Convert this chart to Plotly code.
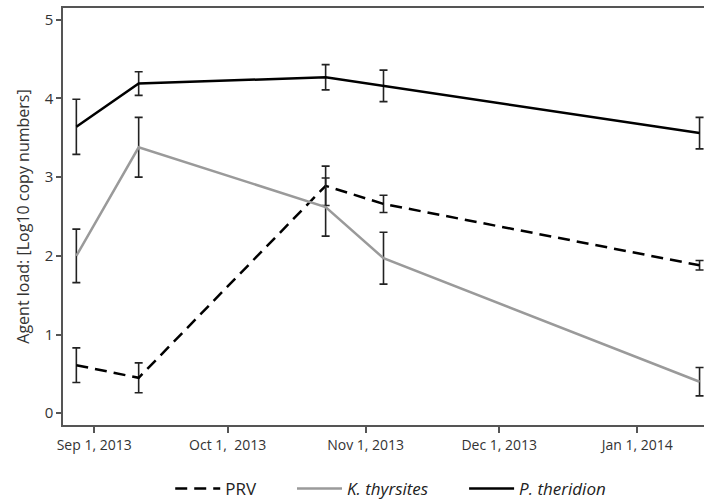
import plotly.graph_objects as go

dates = ["2013-08-28", "2013-09-11", "2013-10-23", "2013-11-05", "2014-01-15"]
prv = [0.61, 0.45, 2.89, 2.66, 1.88]
prv_err = [0.22, 0.19, 0.25, 0.11, 0.06]
kthy = [2.00, 3.38, 2.62, 1.97, 0.40]
kthy_err = [0.34, 0.38, 0.37, 0.33, 0.18]
pther = [3.64, 4.19, 4.27, 4.16, 3.56]
pther_err = [0.35, 0.15, 0.16, 0.20, 0.20]

tick_vals = ["2013-09-01", "2013-10-01", "2013-11-01", "2013-12-01", "2014-01-01"]
tick_text = ["Sep 1, 2013", "Oct 1,  2013", "Nov 1, 2013", "Dec 1, 2013", "Jan 1, 2014"]

font = "Open Sans, Segoe UI, DejaVu Sans, sans-serif"
pad = "\u00a0" * 7

def err(v):
    return dict(type="data", array=v, visible=True, color="#222222", thickness=1.6, width=4)

fig = go.Figure()
fig.add_trace(go.Scatter(x=dates, y=prv, mode="lines", name="PRV" + pad,
                         line=dict(color="black", width=2.5, dash="12px,7px"),
                         error_y=err(prv_err)))
fig.add_trace(go.Scatter(x=dates, y=kthy, mode="lines", name="<i>K. thyrsites</i>" + pad,
                         line=dict(color="#9a9a9a", width=2.5),
                         error_y=err(kthy_err)))
fig.add_trace(go.Scatter(x=dates, y=pther, mode="lines", name="<i>P. theridion</i>",
                         line=dict(color="black", width=2.5),
                         error_y=err(pther_err)))

fig.update_layout(
    width=704, height=504,
    margin=dict(l=63, r=0, t=8, b=79),
    paper_bgcolor="white", plot_bgcolor="white",
    font=dict(family=font, size=14, color="#333333"),
    showlegend=True,
    legend=dict(orientation="h", x=0.555, xref="container", xanchor="center",
                y=0.03, yref="container", yanchor="middle",
                font=dict(size=17, color="#222222"), traceorder="normal", itemwidth=45),
    xaxis=dict(type="date", range=["2013-08-25", "2014-01-16"],
               tickvals=tick_vals, ticktext=tick_text,
               showgrid=False, zeroline=False,
               showline=True, linecolor="#555555", linewidth=1.5, mirror=True,
               ticks="outside", ticklen=6, tickcolor="#555555", tickwidth=1.5,
               tickfont=dict(size=14, color="#333333")),
    yaxis=dict(range=[-0.15, 5.15], tickvals=[0, 1, 2, 3, 4, 5],
               showgrid=False, zeroline=False,
               showline=True, linecolor="#555555", linewidth=1.5,
               ticks="outside", ticklen=5, tickcolor="#555555", tickwidth=1.5,
               tickfont=dict(size=15, color="#333333"),
               title=dict(text="Agent load: [Log10 copy numbers]", standoff=11,
                          font=dict(size=16, color="#333333"))),
)

fig.write_html("out.html", config={"displayModeBar": False},
               post_script="document.body.style.margin='0';document.body.style.padding='0';")
